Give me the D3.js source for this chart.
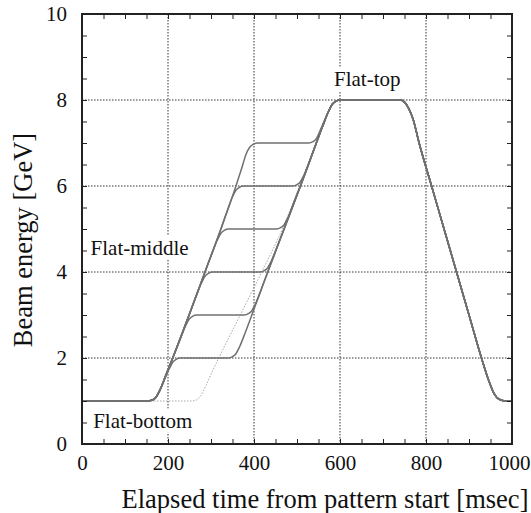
<!DOCTYPE html>
<html>
<head>
<meta charset="utf-8">
<script src="https://cdn.jsdelivr.net/npm/d3@7"></script>
<style>
  body { margin: 0; background: #fff; }
</style>
</head>
<body>
<div id="chart"></div>
<script>
// axis ticks and grid
const xMajorTicks = [0, 200, 400, 600, 800, 1000];
const yMajorTicks = [0, 2, 4, 6, 8, 10];
const xGrid = [200, 400, 600, 800];
const yGrid = [2, 4, 6, 8];
const flatMiddleLevels = [2, 3, 4, 5, 6, 7];

// shared pieces of every pattern: [msec, GeV]
const flatBottom = [[0, 1], [150, 1], [165, 1.03], [173, 1.1], [181, 1.25]];
const flatTopAndFall = [[574, 7.75], [582, 7.9], [590, 7.97], [600, 8], [740, 8], [750, 7.95],
  [760, 7.8], [770, 7.55], [784, 7], [813, 6], [842, 5], [871, 4], [900, 3], [929, 2],
  [945, 1.5], [958, 1.18], [970, 1.04], [985, 1], [1000, 1]];

// ramp up with a flat-middle at 2..7 GeV
const rampFlat2 = [[192, 1.5], [203, 1.75], [211, 1.9], [219, 1.97], [229, 2], [340, 2], [350, 2.03],
  [358, 2.1], [366, 2.25], [380, 2.6], [395, 3], [432, 4], [470, 5], [508, 6], [545, 7], [560, 7.4]];
const rampFlat3 = [[195, 1.6], [211, 2], [227, 2.4], [241, 2.75], [249, 2.9], [257, 2.97], [267, 3],
  [377, 3], [387, 3.03], [395, 3.1], [403, 3.25], [417, 3.6], [432, 4], [470, 5], [508, 6], [545, 7], [560, 7.4]];
const rampFlat4 = [[195, 1.6], [211, 2], [249, 3], [264, 3.4], [278, 3.75], [286, 3.9], [294, 3.97],
  [304, 4], [414, 4], [424, 4.03], [432, 4.1], [440, 4.25], [454, 4.6], [470, 5], [508, 6], [545, 7], [560, 7.4]];
const rampFlat5 = [[195, 1.6], [211, 2], [249, 3], [286, 4], [301, 4.4], [315, 4.75], [323, 4.9],
  [331, 4.97], [341, 5], [452, 5], [462, 5.03], [470, 5.1], [478, 5.25], [492, 5.6], [508, 6], [545, 7], [560, 7.4]];
const rampFlat6 = [[195, 1.6], [211, 2], [249, 3], [286, 4], [323, 5], [337, 5.4], [350, 5.75],
  [358, 5.9], [366, 5.97], [376, 6], [490, 6], [500, 6.03], [508, 6.1], [516, 6.25], [530, 6.6], [545, 7], [560, 7.4]];
const rampFlat7 = [[195, 1.6], [211, 2], [249, 3], [286, 4], [323, 5], [358, 6], [371, 6.4],
  [382, 6.75], [390, 6.9], [398, 6.97], [408, 7], [527, 7], [537, 7.03], [545, 7.1], [553, 7.27], [562, 7.48]];

// direct ramp without flat-middle (light dotted)
const directRamp = [[0, 1], [255, 1], [267, 1.03], [276, 1.12], [288, 1.35], [300, 1.62], [318, 2],
  [368, 3], [418, 4], [466, 5], [506, 6], [545, 7], [560, 7.4]];

const labels = [
  { text: "Flat-top", t: 586, e: 8.32 },
  { text: "Flat-middle", t: 20, e: 4.4 },
  { text: "Flat-bottom", t: 26, e: 0.38 }
];

const ramps = [rampFlat2, rampFlat3, rampFlat4, rampFlat5, rampFlat6, rampFlat7];
const patterns = flatMiddleLevels.map((lv, i) => ({
  level: lv,
  points: flatBottom.concat(ramps[i], flatTopAndFall)
}));
const directPattern = directRamp.concat(flatTopAndFall);

const FONT = '"Liberation Serif", "Times New Roman", serif';
const W = 531, H = 513;
const margin = { top: 14, right: 19, bottom: 69, left: 82 };
const width = W - margin.left - margin.right;
const height = H - margin.top - margin.bottom;

const svg = d3.select("#chart").append("svg")
  .attr("width", W).attr("height", H);

const g = svg.append("g")
  .attr("transform", `translate(${margin.left},${margin.top})`);

const x = d3.scaleLinear().domain([0, 1000]).range([0, width]);
const y = d3.scaleLinear().domain([0, 10]).range([height, 0]);

// grid
g.append("g").selectAll("line").data(xGrid).join("line")
  .attr("x1", d => x(d)).attr("x2", d => x(d))
  .attr("y1", 0).attr("y2", height)
  .attr("stroke", "#333").attr("stroke-width", 1).attr("stroke-dasharray", "1.5,1.5");
g.append("g").selectAll("line").data(yGrid).join("line")
  .attr("x1", 0).attr("x2", width)
  .attr("y1", d => y(d)).attr("y2", d => y(d))
  .attr("stroke", "#333").attr("stroke-width", 1).attr("stroke-dasharray", "1.5,1.5");

// labels with white box over the grid
labels.forEach(l => {
  const t = g.append("text")
    .attr("x", x(l.t)).attr("y", y(l.e))
    .style("font-family", FONT)
    .style("font-size", "21px").attr("fill", "#111")
    .text(l.text);
  const bb = t.node().getBBox();
  g.insert("rect", "text")
    .attr("x", bb.x - 2).attr("y", bb.y)
    .attr("width", bb.width + 4).attr("height", bb.height)
    .attr("fill", "#fff");
});

const line = d3.line()
  .x(d => x(d[0]))
  .y(d => y(d[1]))
  .curve(d3.curveMonotoneX);

g.append("path")
  .datum(directPattern)
  .attr("fill", "none")
  .attr("stroke", "#a8a8a8")
  .attr("stroke-width", 1)
  .attr("stroke-dasharray", "1.5,1.5")
  .attr("d", line);

g.append("g").selectAll("path").data(patterns).join("path")
  .attr("fill", "none")
  .attr("stroke", "#707070")
  .attr("stroke-width", 1.5)
  .attr("d", d => line(d.points));

// axes with inward ticks
const xMinor = d3.range(0, 1001, 50);
const yMinor = d3.range(0, 10.01, 0.5);

const axisB = g.append("g")
  .attr("transform", `translate(0,${height})`)
  .call(d3.axisBottom(x).tickValues(xMinor).tickSizeInner(-5).tickSizeOuter(0)
    .tickPadding(11).tickFormat(d => xMajorTicks.includes(d) ? d : ""));
const axisT = g.append("g")
  .call(d3.axisTop(x).tickValues(xMinor).tickSizeInner(-5).tickSizeOuter(0).tickFormat(""));
const axisL = g.append("g")
  .call(d3.axisLeft(y).tickValues(yMinor).tickSizeInner(-5).tickSizeOuter(0)
    .tickPadding(15).tickFormat(d => yMajorTicks.includes(d) ? d : ""));
const axisR = g.append("g")
  .attr("transform", `translate(${width},0)`)
  .call(d3.axisRight(y).tickValues(yMinor).tickSizeInner(-5).tickSizeOuter(0).tickFormat(""));

[axisB, axisT, axisL, axisR].forEach(a => {
  a.attr("font-family", null);
  a.select(".domain").remove();
  a.selectAll(".tick line").attr("stroke", "#222").attr("stroke-width", 1);
  a.selectAll("text")
    .style("font-family", FONT)
    .style("font-size", "21px").attr("fill", "#111");
});

// keep "1000" inside the window
axisB.selectAll(".tick text").filter(d => d === 1000)
  .attr("text-anchor", "end").attr("dx", 18);

g.append("rect")
  .attr("width", width).attr("height", height)
  .attr("fill", "none").attr("stroke", "#222").attr("stroke-width", 2);

// axis titles
svg.append("text")
  .attr("x", 325)
  .attr("y", 508)
  .attr("text-anchor", "middle")
  .style("font-family", FONT)
  .style("font-size", "26.5px").attr("fill", "#111")
  .text("Elapsed time from pattern start [msec]");

svg.append("text")
  .attr("transform", "translate(32,240) rotate(-90)")
  .attr("text-anchor", "middle")
  .style("font-family", FONT)
  .style("font-size", "26.5px").attr("fill", "#111")
  .text("Beam energy [GeV]");
</script>
</body>
</html>
